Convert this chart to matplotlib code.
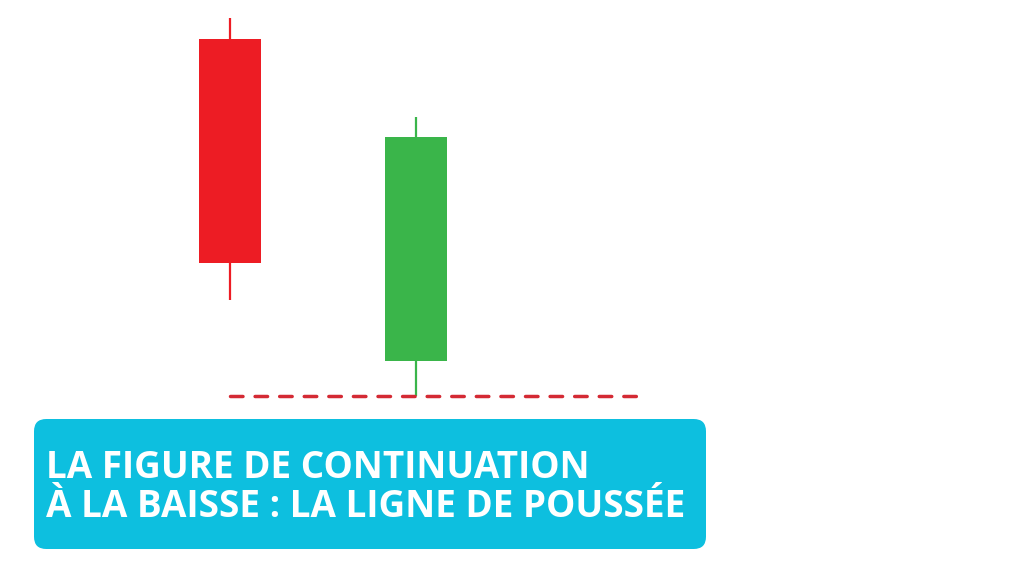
import matplotlib
matplotlib.use("Agg")
import matplotlib.pyplot as plt
from matplotlib.patches import FancyBboxPatch

# Data (price units)
candles = ["bearish", "bullish"]
opens = [53.7, 21.5]
closes = [31.3, 43.9]
highs = [55.8, 45.9]
lows = [27.6, 18.0]
colors = ["#ED1C24", "#3AB54A"]
support_level = 18.0
support_x = [0, 2.2]
title_lines = ["LA FIGURE DE CONTINUATION", "À LA BAISSE : LA LIGNE DE POUSSÉE"]

fig = plt.figure(figsize=(10.24, 5.76), dpi=100)
ax = fig.add_axes([0, 0, 1, 1])
ax.set_xlim(-230 / 186, (1024 - 230) / 186)
ax.set_ylim(0, 57.6)
ax.axis("off")

body_w = 62 / 186
for i, (o, c, h, l, col) in enumerate(zip(opens, closes, highs, lows, colors)):
    ax.vlines(i, l, h, color=col, linewidth=1.6, zorder=1)
    ax.bar(i, abs(c - o), bottom=min(o, c), width=body_w, color=col, zorder=2)

ax.plot(support_x, [support_level, support_level], color="#D42A34", linewidth=2.5,
        dashes=(3.6, 3.48), zorder=3, dash_capstyle="round", solid_capstyle="round")

# Title box (figure pixel coords)
W, H = 1024, 576
x0, x1, ytop, ybot = 34, 706, 419, 549
box = FancyBboxPatch((x0 / W, 1 - ybot / H), (x1 - x0) / W, (ybot - ytop) / H,
                     boxstyle="round,pad=0,rounding_size=0.012",
                     transform=fig.transFigure, facecolor="#0DBFDF",
                     edgecolor="none", zorder=5, mutation_aspect=W / H)
fig.patches.append(box)

for txt, ypx in zip(title_lines, [478, 517]):
    fig.text(46 / W, 1 - ypx / H, txt, color="white", fontsize=26.6,
             fontweight="bold", family=["Open Sans", "DejaVu Sans"],
             va="baseline", ha="left", zorder=10)

fig.savefig("out.png", dpi=100)
